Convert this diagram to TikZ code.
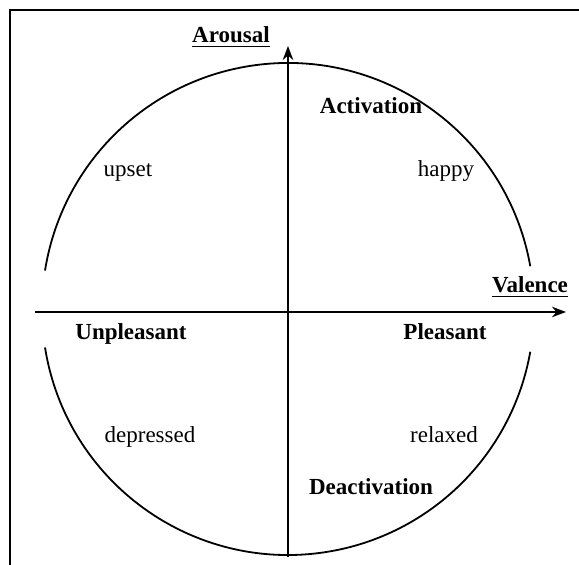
\documentclass[tikz,border=0pt]{standalone}
\usepackage{fontspec}
\setmainfont{Liberation Serif}
\usepackage{tikz}
\usetikzlibrary{arrows.meta}

\begin{document}
\begin{tikzpicture}[x=0.5pt,y=-0.5pt,>=Stealth,
  thick,every node/.style={font=\fontsize{11.5}{13}\selectfont,anchor=base},
  main label/.style={font=\fontsize{11.5}{13}\selectfont\bfseries},
  axis label/.style={main label,inner sep=0pt}]

  \useasboundingbox (0,0) rectangle (579,565);
  % frame (only left and top edge fall inside)
  \draw[line width=1.2pt] (10,565) -- (10,10) -- (579,10);

  % circle, broken near the horizontal axis
  \coordinate (c) at (288,309);
  \draw[line width=0.9pt] ([shift={(10:123pt)}]c) arc[start angle=10,end angle=171,radius=123pt];
  \draw[line width=0.9pt] ([shift={(189:123pt)}]c) arc[start angle=189,end angle=350,radius=123pt];

  % axes
  \coordinate (v0) at (288,557);
  \coordinate (v1) at (288,46);
  \coordinate (h0) at (35,312);
  \coordinate (h1) at (566,312);
  \draw[->,line width=0.9pt] (v0) -- (v1);
  \draw[->,line width=0.9pt] (h0) -- (h1);

  \node[axis label] (arousal) at (231,43) {\underline{Arousal}};
  \node[axis label] (valence) at (530,293) {\underline{Valence}};

  \node[main label] (act) at (371,114) {Activation};
  \node[main label] (deact) at (371,495) {Deactivation};
  \node[main label] (unpl) at (131,340) {Unpleasant};
  \node[main label] (pl) at (445,340) {Pleasant};

  \node (upset) at (128,177) {upset};
  \node (happy) at (446,177) {happy};
  \node (depr) at (150,443) {depressed};
  \node (relax) at (444,443) {relaxed};
\end{tikzpicture}
\end{document}
